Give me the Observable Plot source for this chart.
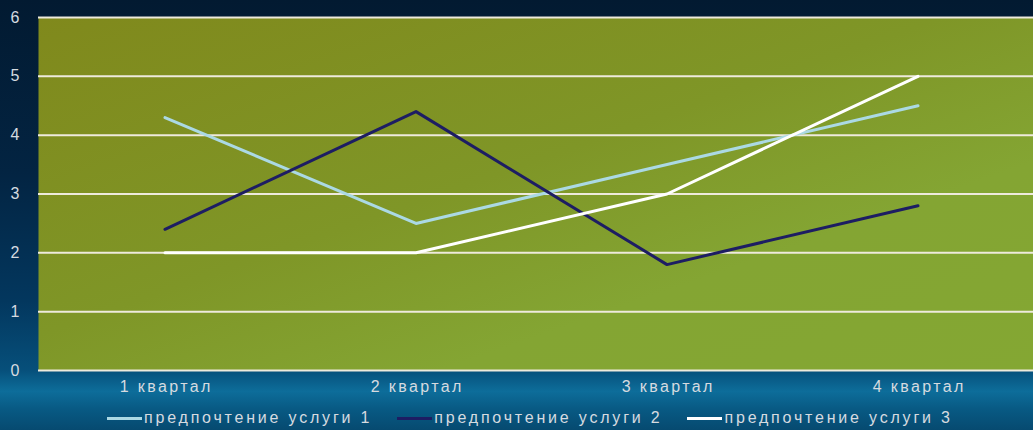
<!DOCTYPE html>
<html><head><meta charset="utf-8">
<script src="https://cdn.jsdelivr.net/npm/d3@7"></script>
<script src="https://cdn.jsdelivr.net/npm/@observablehq/plot@0.6"></script>
<style>
html,body{margin:0;padding:0;width:1033px;height:430px;overflow:hidden;}
body{
  background:linear-gradient(180deg,#021a31 0%,#032442 40%,#03375e 70%,#064f7a 86%,#0d6d9a 91%,#085a84 95%,#064a70 100%);
  font-family:"Liberation Sans",Arial,sans-serif;position:relative;
}
#chart{position:absolute;left:0;top:0;}
#legend{position:absolute;left:107px;top:409px;display:flex;gap:25px;align-items:center;
  color:#d6dbe0;font-size:16px;letter-spacing:2.8px;white-space:nowrap;line-height:18px;}
.item{display:flex;align-items:center;gap:2px;}
.swatch{width:35px;height:3px;}
</style></head><body><div id="chart"></div><div id="legend"></div>
<script>
const quarters = ["1 квартал","2 квартал","3 квартал","4 квартал"];
const seriesNames = ["предпочтение услуги 1","предпочтение услуги 2","предпочтение услуги 3"];
const service1 = [4.3, 2.5, 3.5, 4.5];
const service2 = [2.4, 4.4, 1.8, 2.8];
const service3 = [2, 2, 3, 5];
const seriesColors = ["#abd9e4","#1d1d63","#ffffff"];
const yTicks = [0,1,2,3,4,5,6];

const seriesValues = [service1, service2, service3];
const data = seriesNames.flatMap((name,k)=>quarters.map((q,i)=>({q, name, v: seriesValues[k][i]})));

const plot = Plot.plot({
  width:1033, height:400,
  marginLeft:38, marginRight:-11, marginTop:17, marginBottom:30,
  style:{background:"transparent", fontFamily:"'Liberation Sans',Arial,sans-serif", fontSize:"16px", color:"#d6dbe0", overflow:"visible"},
  x:{domain:quarters, type:"band", padding:0, label:null},
  y:{domain:[0,6], label:null},
  color:{domain:seriesNames, range:seriesColors},
  marks:[
    Plot.frame({fill:"url(#plotbg)", stroke:null}),
    Plot.ruleY(yTicks,{stroke:"#eeeadc", strokeWidth:2}),
    Plot.lineY(data,{x:"q", y:"v", z:"name", stroke:"name", strokeWidth:3}),
    Plot.axisX({tickSize:0, tickPadding:10, fill:"#d6dbe0", fontSize:16, label:null}),
    Plot.axisY({ticks:yTicks, tickFormat:"d", tickSize:0, tickPadding:19, fill:"#d6dbe0", fontSize:16, label:null})
  ]
});
const svg = d3.select(plot);
const defs = svg.insert("defs",":first-child");
const g = defs.append("linearGradient").attr("id","plotbg").attr("x1","0").attr("y1","0").attr("x2","1").attr("y2","1");
g.append("stop").attr("offset","0%").attr("stop-color","#80891c");
g.append("stop").attr("offset","45%").attr("stop-color","#7f9627");
g.append("stop").attr("offset","70%").attr("stop-color","#84a533");
g.append("stop").attr("offset","100%").attr("stop-color","#84a733");
svg.selectAll("text").filter(function(){ return quarters.includes(this.textContent); })
  .style("letter-spacing","2.4px").attr("dx", 1.2);
document.getElementById("chart").appendChild(plot);

const legend = d3.select("#legend");
seriesNames.forEach((n,i)=>{
  const it = legend.append("div").attr("class","item");
  it.append("div").attr("class","swatch").style("background",seriesColors[i]);
  it.append("span").text(n);
});
</script>
</body></html>
